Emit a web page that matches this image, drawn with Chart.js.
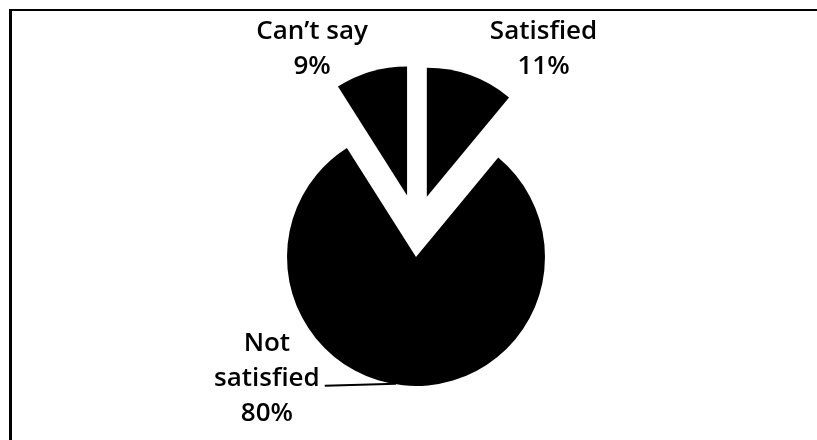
<!DOCTYPE html>
<html>
<head>
<meta charset="utf-8">
<script src="https://cdn.jsdelivr.net/npm/chart.js@4/dist/chart.umd.min.js"></script>
<style>
  html, body { margin: 0; padding: 0; background: #fff; overflow: hidden; }
  #wrap { position: relative; width: 817px; height: 440px; }
  #frame { position: absolute; left: 9px; top: 9px; width: 900px; height: 500px;
           border-left: 3px solid #000; border-top: 2px solid #000; pointer-events: none; }
</style>
</head>
<body>
<div id="wrap">
  <canvas id="myChart" width="817" height="440"></canvas>
  <div id="frame"></div>
</div>
<script>
// データ
const labels   = ["Satisfied", "Not satisfied", "Can\u2019t say"];
const values   = [11, 80, 9];
const pctText  = ["11%", "80%", "9%"];
const labelLines = [["Satisfied"], ["Not", "satisfied"], ["Can\u2019t say"]];
const explode  = [256, 0, 256];   // chart.js style: moved by offset/4
const squeezeX = 0.5;             // 元画像は横方向の切り出しが小さい

// ラベル位置の調整 (arc外側の中点からのずれ)
const nudge = [[73, -26], [-141, -7], [-59, -23]];
const leader = [false, true, false];

function shift(arc, mid) {
  const d = (arc.options.offset || 0) / 4;
  return [Math.cos(mid) * d * squeezeX, Math.sin(mid) * d];
}

// 切り出したarcを半径そのままで描く (chart.jsは外径も広げるので)
const arcPlugin = {
  id: 'flatExplode',
  beforeDatasetDraw(chart, args) {
    const ctx = chart.ctx;
    args.meta.data.forEach(function(arc) {
      const p = arc.getProps(['x', 'y', 'startAngle', 'endAngle', 'outerRadius']);
      const mid = (p.startAngle + p.endAngle) / 2;
      const s = shift(arc, mid);
      ctx.save();
      ctx.translate(s[0], s[1]);
      ctx.beginPath();
      ctx.moveTo(p.x, p.y);
      ctx.arc(p.x, p.y, p.outerRadius, p.startAngle, p.endAngle);
      ctx.closePath();
      ctx.fillStyle = arc.options.backgroundColor;
      ctx.fill();
      ctx.restore();
    });
    return false;
  }
};

const labelPlugin = {
  id: 'pieLabels',
  afterDatasetsDraw(chart) {
    const ctx = chart.ctx;
    const meta = chart.getDatasetMeta(0);
    ctx.save();
    ctx.font = '600 26px "Open Sans"';
    ctx.fillStyle = '#000';
    ctx.textAlign = 'center';
    ctx.textBaseline = 'middle';
    const lh = 35;
    meta.data.forEach(function(arc, i) {
      const p = arc.getProps(['x', 'y', 'startAngle', 'endAngle', 'outerRadius']);
      const mid = (p.startAngle + p.endAngle) / 2;
      const s = shift(arc, mid);
      const ex = p.x + Math.cos(mid) * p.outerRadius + s[0];
      const ey = p.y + Math.sin(mid) * p.outerRadius + s[1];
      const lines = labelLines[i].concat([pctText[i]]);
      const cx = ex + nudge[i][0];
      const cy = ey + nudge[i][1];
      const top = cy - (lines.length - 1) * lh / 2;
      lines.forEach(function(t, j) {
        ctx.fillText(t, cx, top + j * lh);
      });
      if (leader[i]) {
        // 引き出し線
        const w = ctx.measureText(labelLines[i][labelLines[i].length - 1]).width;
        const ly = top + (labelLines[i].length - 1) * lh + 7;
        ctx.strokeStyle = '#000';
        ctx.lineWidth = 2;
        ctx.beginPath();
        ctx.moveTo(cx + w / 2 + 5, ly);
        ctx.lineTo(ex - 12, ey - 2);
        ctx.stroke();
      }
    });
    ctx.restore();
  }
};

var ctx = document.getElementById("myChart").getContext('2d');
var myChart = new Chart(ctx, {
  type: 'pie',
  data: {
    labels: labels,
    datasets: [{
      data: values,
      backgroundColor: "#000",
      borderWidth: 0,
      offset: explode,
      clip: false
    }]
  },
  options: {
    responsive: false,
    animation: false,
    radius: 129,
    layout: { padding: { left: 15, right: 0, top: 74, bottom: 0 } },
    plugins: {
      legend: { display: false },
      tooltip: { enabled: false }
    }
  },
  plugins: [arcPlugin, labelPlugin]
});
</script>
</body>
</html>
